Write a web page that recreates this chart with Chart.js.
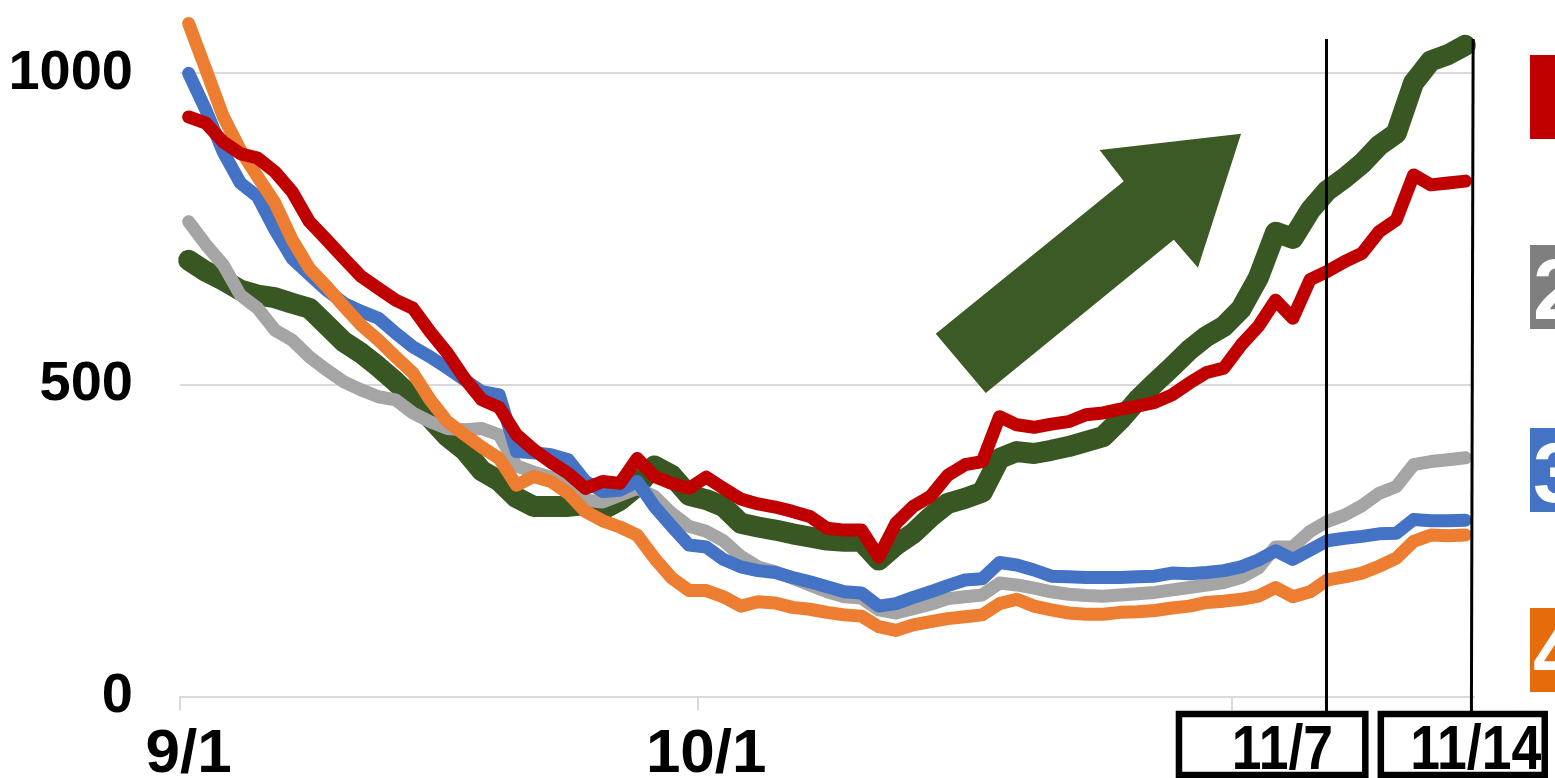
<!DOCTYPE html>
<html><head><meta charset="utf-8">
<script src="https://cdn.jsdelivr.net/npm/chart.js@4.4.0/dist/chart.umd.min.js"></script>
<style>html,body{margin:0;padding:0;background:#fff;overflow:hidden}</style>
</head><body>
<canvas id="c" width="1555" height="778"></canvas>
<script>
const dates = ['9/1','9/2','9/3','9/4','9/5','9/6','9/7','9/8','9/9','9/10','9/11','9/12','9/13','9/14','9/15','9/16','9/17','9/18','9/19','9/20','9/21','9/22','9/23','9/24','9/25','9/26','9/27','9/28','9/29','9/30',
'10/1','10/2','10/3','10/4','10/5','10/6','10/7','10/8','10/9','10/10','10/11','10/12','10/13','10/14','10/15','10/16','10/17','10/18','10/19','10/20','10/21','10/22','10/23','10/24','10/25','10/26','10/27','10/28','10/29','10/30','10/31',
'11/1','11/2','11/3','11/4','11/5','11/6','11/7','11/8','11/9','11/10','11/11','11/12','11/13','11/14'];

const red = [930,920,890,871,864,842,810,762,733,703,674,655,636,623,585,551,510,476,464,420,396,376,358,334,345,342,382,353,342,334,352,334,317,309,304,297,289,270,267,267,224,278,305,321,355,372,377,449,436,432,437,441,452,455,461,466,472,484,503,520,527,564,594,636,607,669,682,698,711,746,765,837,821,824,827];
const green = [700,682,668,652,644,640,631,623,596,569,551,529,505,479,447,417,395,362,346,319,305,305,305,308,300,315,338,370,355,323,316,305,278,272,267,261,256,251,249,249,219,243,262,288,310,318,328,382,393,390,395,401,409,417,444,476,503,529,556,578,594,622,672,745,735,780,812,832,855,884,904,985,1020,1030,1045];
const gray = [762,725,693,644,623,588,572,545,524,505,492,481,476,455,441,430,428,430,420,370,360,352,339,315,312,323,334,321,294,273,265,250,225,208,200,190,179,168,160,158,139,134,141,148,157,160,163,182,179,174,168,164,162,161,163,165,167,171,175,179,183,191,206,240,240,265,281,291,306,326,337,372,377,380,383];
const blue = [1000,941,874,824,802,749,703,677,652,631,618,607,583,561,545,527,508,489,484,393,391,388,380,345,329,331,345,305,273,243,240,220,208,202,199,191,184,176,168,166,145,149,159,168,178,187,189,215,211,203,193,192,191,191,191,192,193,198,197,199,202,208,219,234,220,235,250,254,257,261,262,284,282,282,283];
const orange = [1080,1006,931,877,834,792,733,687,658,626,596,572,545,519,476,441,420,400,382,339,353,345,326,297,282,272,259,222,190,170,170,160,145,152,150,143,140,135,131,129,112,106,115,120,125,128,131,149,156,145,139,134,132,132,135,136,138,142,145,151,153,156,161,175,160,168,187,192,198,209,222,249,259,258,259];

const yTicks = [0, 500, 1000];
const shownTickLabels = ['9/1', '10/1'];
const tickMarkDates = ['9/1', '10/1', '11/1'];
const markerDates = ['11/7', '11/14'];
const legendLabels = ['1', '2', '3', '4'];
const legendColors = ['#C00000', '#7F7F7F', '#4472C4', '#E46C0A'];

const SANS = '"Liberation Sans", Arial, sans-serif';

const annot = {
  id: 'annot',
  afterDraw(chart) {
    const ctx = chart.ctx;
    const xs = chart.scales.x, ys = chart.scales.y;
    const px = v => xs.getPixelForValue(v);
    const py = v => ys.getPixelForValue(v);
    ctx.save();
    // big arrow (data-space polygon)
    const arrow = [[43.3,582],[54.2,827],[52.8,877],[61.0,903],[58.5,688],[57.1,733],[46.2,487]];
    ctx.fillStyle = '#3B5A25';
    ctx.beginPath();
    arrow.forEach((p, k) => { const X = px(p[0]), Y = py(p[1]); k ? ctx.lineTo(X, Y) : ctx.moveTo(X, Y); });
    ctx.closePath(); ctx.fill();

    // vertical marker lines
    const bottom = chart.chartArea.bottom;
    const lines = [[65.95, 65.95], [74.45, 74.35]];
    ctx.strokeStyle = '#000'; ctx.lineWidth = 3;
    lines.forEach(l => {
      ctx.beginPath(); ctx.moveTo(px(l[0]), py(1055)); ctx.lineTo(px(l[1]), bottom + 15); ctx.stroke();
    });

    // boxes with labels
    const boxes = [[57.4, 68.2, 63.4], [69.1, 78.6, 74.6]];
    boxes.forEach((b, k) => {
      const x0 = px(b[0]), x1 = px(b[1]);
      const y0 = bottom + 17.5, y1 = bottom + 78.5;
      ctx.fillStyle = '#fff';
      ctx.fillRect(x0, y0, x1 - x0, y1 - y0);
      ctx.strokeStyle = '#000'; ctx.lineWidth = 6.5;
      ctx.strokeRect(x0, y0, x1 - x0, y1 - y0);
      ctx.fillStyle = '#000';
      ctx.save();
      ctx.translate(px(b[2]), bottom + 72);
      ctx.scale(0.85, 1);
      ctx.font = 'bold 63px ' + SANS;
      ctx.textAlign = 'center'; ctx.textBaseline = 'alphabetic';
      ctx.fillText(markerDates[k], 0, 0);
      ctx.restore();
    });

    // legend squares (clipped at right edge)
    const legY = [55, 245, 428, 608];
    legendLabels.forEach((t, k) => {
      ctx.fillStyle = legendColors[k];
      ctx.fillRect(1530, legY[k], 90, 84);
      ctx.fillStyle = '#fff';
      ctx.font = 'bold 86px ' + SANS;
      ctx.textAlign = 'left'; ctx.textBaseline = 'alphabetic';
      ctx.fillText(t, k === 0 ? 1560 : 1533, legY[k] + 74);
    });
    ctx.restore();
  }
};

const mk = (label, data, color, w) => ({label, data, borderColor: color, backgroundColor: color, borderWidth: w,
  pointRadius: 0, tension: 0, fill: false, borderCapStyle: 'round', borderJoinStyle: 'round', clip: false});

new Chart(document.getElementById('c'), {
  type: 'line',
  data: {
    labels: dates,
    datasets: [
      mk('1', red, '#C00000', 13),
      mk('4', orange, '#ED7D31', 13),
      mk('3', blue, '#4472C4', 13),
      mk('2', gray, '#A5A5A5', 13),
      mk('5', green, '#385723', 21)
    ]
  },
  options: {
    responsive: false, animation: false, devicePixelRatio: 1,
    layout: {autoPadding: false, padding: {top: 11, right: 81, left: 0, bottom: 0}},
    plugins: {legend: {display: false}, tooltip: {enabled: false}},
    scales: {
      x: {
        type: 'category', offset: true,
        grid: {offset: true, drawOnChartArea: false, drawTicks: true, tickLength: 14, lineWidth: 2,
          color: c => (c.index !== undefined && c.tick && tickMarkDates.includes(dates[c.index])) ? '#d9d9d9' : 'rgba(0,0,0,0)'},
        border: {display: true, color: '#d9d9d9', width: 2},
        ticks: {autoSkip: false, maxRotation: 0, minRotation: 0, padding: 7, color: '#000',
          font: {family: SANS, weight: 'bold', size: 62},
          callback: (v, i) => shownTickLabels.includes(dates[i]) ? dates[i] : ''},
        afterFit: s => { s.height = 81.5; s.paddingLeft = 0; s.paddingRight = 0; }
      },
      y: {
        min: 0, max: 1100,
        afterBuildTicks: s => { s.ticks = yTicks.map(v => ({value: v})); },
        grid: {color: '#d9d9d9', lineWidth: 2, drawTicks: false},
        border: {display: false},
        ticks: {padding: 47, color: '#000', font: {family: SANS, weight: 'bold', size: 56},
          callback: v => String(v)},
        afterFit: s => { s.width = 180; s.paddingTop = 0; s.paddingBottom = 0; }
      }
    }
  },
  plugins: [annot]
});
</script>
</body></html>
